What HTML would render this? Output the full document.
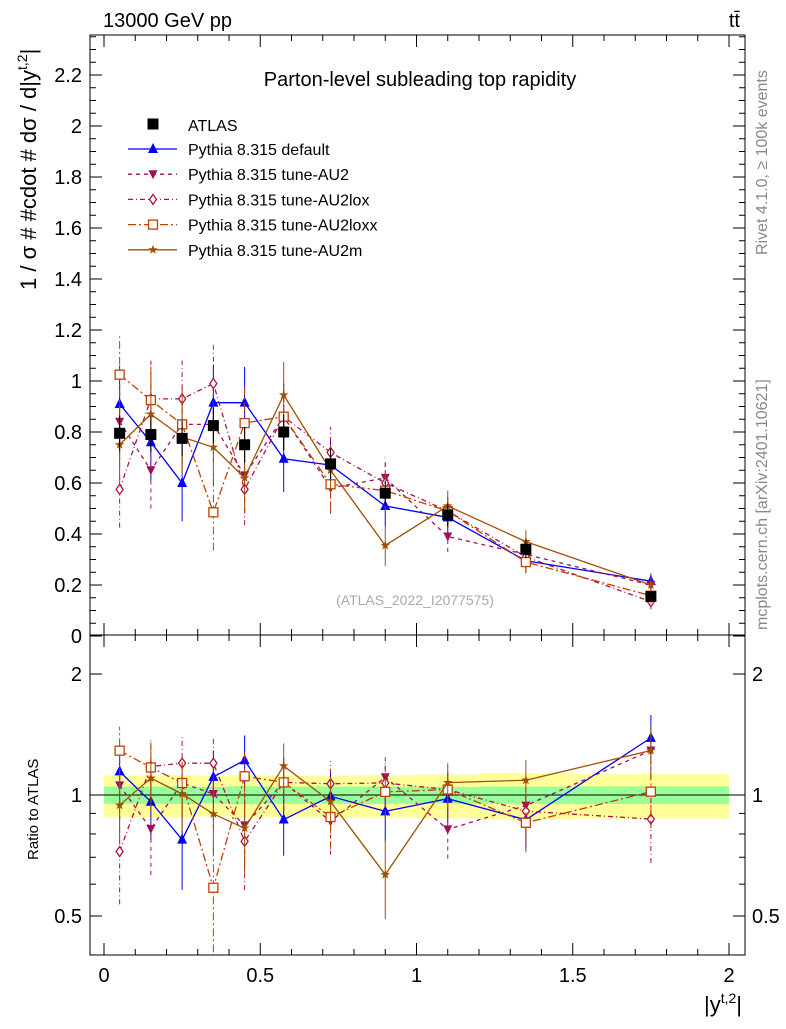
<!DOCTYPE html>
<html><head><meta charset="utf-8"><style>
body{margin:0;background:#fff;width:786px;height:1024px;overflow:hidden}
svg{font-family:"Liberation Sans",sans-serif}
</style></head><body>
<svg id="c" width="786" height="1024" viewBox="0 0 786 1024"></svg>
<script>
const edges=[0,0.1,0.2,0.3,0.4,0.5,0.65,0.8,1.0,1.2,1.5,2.0];
const centers=[0.05,0.15,0.25,0.35,0.45,0.575,0.725,0.9,1.1,1.35,1.75];
const atlas=[0.795,0.79,0.775,0.825,0.75,0.80,0.675,0.56,0.475,0.34,0.155];
const atlasStat=[0.035,0.035,0.035,0.035,0.035,0.035,0.03,0.025,0.02,0.015,0.007];
const atlasTot=[0.07,0.07,0.07,0.07,0.07,0.07,0.06,0.05,0.045,0.035,0.015];
const sDefault=[0.91,0.76,0.60,0.915,0.915,0.695,0.67,0.51,0.465,0.295,0.215];
const sAU2=[0.84,0.65,0.83,0.83,0.63,0.86,0.58,0.62,0.39,0.32,0.20];
const sAU2lox=[0.575,0.93,0.93,0.99,0.575,0.86,0.72,0.60,0.49,0.31,0.135];
const sAU2loxx=[1.025,0.925,0.83,0.485,0.835,0.86,0.595,0.57,0.49,0.29,0.158];
const sAU2m=[0.75,0.87,0.78,0.74,0.62,0.945,0.65,0.355,0.51,0.37,0.20];
const mcErr=[0.15,0.15,0.15,0.15,0.14,0.13,0.1,0.08,0.06,0.045,0.03];
const yTicks=[0,0.2,0.4,0.6,0.8,1,1.2,1.4,1.6,1.8,2,2.2];
const rTicks=[0.5,1,2];
const xTicks=[0,0.5,1,1.5,2];

const NS="http://www.w3.org/2000/svg";const svg=document.getElementById('c');
function el(t,a,p){const e=document.createElementNS(NS,t);for(const k in a)e.setAttribute(k,a[k]);(p||svg).appendChild(e);return e;}
function tx(x,y,s,a,p){const e=el('text',Object.assign({x:x,y:y,'font-size':18,fill:'#000'},a||{}),p);e.textContent=s;return e;}
const L=90,R=745,T=35,M=635,B=955;
const X=v=>104+v*312.5;
const Y=v=>636-v*255;
const RY=v=>795-Math.log2(v)*121;

const f1=el('rect',{x:L,y:T,width:R-L,height:M-T,fill:'none',stroke:'#000','stroke-width':1});

const f2=el('rect',{x:L,y:M,width:R-L,height:B-M,fill:'none',stroke:'#000','stroke-width':1});


for(let v=0;v<=2.0001;v+=0.1){const big=Math.abs(v*2-Math.round(v*2))<1e-6;const l=big?12:6;
 for(const [yy,d] of [[M,-1],[T,1],[B,-1],[M,1]]){el('line',{x1:X(v),x2:X(v),y1:yy,y2:yy+d*l,stroke:'#000'});}}
xTicks.forEach(v=>{const t=tx(X(v),982,String(v),{'text-anchor':'middle','font-size':20});});
const xt=tx(742,1012,'|y',{'text-anchor':'end','font-size':22});const ts=el('tspan',{dy:-9,'font-size':14},xt);ts.textContent='t,2';const ts2=el('tspan',{dy:9},xt);ts2.textContent='|';


for(let v=0;v<=2.35;v+=0.05){const big=Math.abs(v*5-Math.round(v*5))<1e-6;const l=big?12:6;const y=Y(v);if(y<T)continue;
 el('line',{x1:L,x2:L+l,y1:y,y2:y,stroke:'#000'});el('line',{x1:R,x2:R-l,y1:y,y2:y,stroke:'#000'});}
yTicks.forEach(v=>{const t=tx(82,Y(v)+7,String(v),{'text-anchor':'end','font-size':20});});
const yt=tx(0,0,'1 / σ # #cdot # dσ / d|y',{'font-size':22,transform:'translate(36,290) rotate(-90)'});
const yts=el('tspan',{dy:-9,'font-size':14},yt);yts.textContent='t,2';const yts2=el('tspan',{dy:9},yt);yts2.textContent='|';


[0.4,0.5,0.6,0.7,0.8,0.9,1,2].forEach(v=>{const y=RY(v);if(y>B)return;const big=rTicks.includes(v);const l=big?12:6;
 el('line',{x1:L,x2:L+l,y1:y,y2:y,stroke:'#000'});el('line',{x1:R,x2:R-l,y1:y,y2:y,stroke:'#000'});});
rTicks.forEach(v=>{const t=tx(82,RY(v)+7,String(v),{'text-anchor':'end','font-size':20});
 const t2=tx(752,RY(v)+7,String(v),{'font-size':20});});
const rt=tx(0,0,'Ratio to ATLAS',{'font-size':15,transform:'translate(38,860) rotate(-90)'});

const t1=tx(103,27,'13000 GeV pp',{'font-size':20});
const t2=tx(740,27,'tt̄',{'font-size':20,'text-anchor':'end'});
const tt=tx(420,86,'Parton-level subleading top rapidity',{'font-size':20,'text-anchor':'middle'});
const wm=tx(415,605,'(ATLAS_2022_I2077575)',{'font-size':14,'text-anchor':'middle',fill:'#aaa'});
const rv=tx(0,0,'Rivet 4.1.0, ≥ 100k events',{'font-size':16,fill:'#888',transform:'translate(767,255) rotate(-90)'});
const mc=tx(0,0,'mcplots.cern.ch [arXiv:2401.10621]',{'font-size':16,fill:'#888',transform:'translate(767,630) rotate(-90)'});

for(let i=0;i<centers.length;i++){const x0=X(edges[i]),x1=X(edges[i+1]);
 const ry=atlasTot[i]/atlas[i]+0.03,rg=atlasStat[i]/atlas[i]+0.005;
 const b=el('rect',{x:x0,y:RY(1+ry),width:x1-x0,height:RY(1-ry)-RY(1+ry),fill:'#ffff99'});
 const g=el('rect',{x:x0,y:RY(1+rg),width:x1-x0,height:RY(1-rg)-RY(1+rg),fill:'#99ff99'});}
el('line',{x1:L,x2:R,y1:RY(1),y2:RY(1),stroke:'#000'});

function marker(g,type,x,y,col){
 if(type==='sq')el('rect',{x:x-5.5,y:y-5.5,width:11,height:11,fill:col},g);
 if(type==='tri')el('polygon',{points:`${x},${y-6} ${x-5},${y+4} ${x+5},${y+4}`,fill:col},g);
 if(type==='dtri')el('polygon',{points:`${x},${y+5} ${x-4.5},${y-4} ${x+4.5},${y-4}`,fill:col},g);
 if(type==='dia')el('polygon',{points:`${x},${y-5} ${x+3.5},${y} ${x},${y+5} ${x-3.5},${y}`,fill:'#fff',stroke:col,'stroke-width':1.3},g);
 if(type==='osq')el('rect',{x:x-4.5,y:y-4.5,width:9,height:9,fill:'#fff',stroke:col,'stroke-width':1.3},g);
 if(type==='star'){let p=[];for(let k=0;k<10;k++){const r=k%2?2:5,a=-Math.PI/2+k*Math.PI/5;p.push((x+r*Math.cos(a)).toFixed(1)+','+(y+r*Math.sin(a)).toFixed(1));}el('polygon',{points:p.join(' '),fill:col},g);}
}
const series=[
 {name:'default',vals:sDefault,col:'#0000ff',dash:'',m:'tri',label:'Pythia 8.315 default'},
 {name:'au2',vals:sAU2,col:'#a0105a',dash:'4,4',m:'dtri',label:'Pythia 8.315 tune-AU2'},
 {name:'au2lox',vals:sAU2lox,col:'#b0104a',dash:'5,3,1,3',m:'dia',label:'Pythia 8.315 tune-AU2lox'},
 {name:'au2loxx',vals:sAU2loxx,col:'#c04000',dash:'8,3,2,3',m:'osq',label:'Pythia 8.315 tune-AU2loxx'},
 {name:'au2m',vals:sAU2m,col:'#a05000',dash:'',m:'star',label:'Pythia 8.315 tune-AU2m'}];
series.forEach(s=>{
 const g=el('g',{});
 const pts=s.vals.map((v,i)=>X(centers[i])+','+Y(v)).join(' ');
 el('polyline',{points:pts,fill:'none',stroke:s.col,'stroke-width':1.3,'stroke-dasharray':s.dash},g);
 const rpts=s.vals.map((v,i)=>X(centers[i])+','+RY(v/atlas[i])).join(' ');
 el('polyline',{points:rpts,fill:'none',stroke:s.col,'stroke-width':1.3,'stroke-dasharray':s.dash},g);
 s.vals.forEach((v,i)=>{const x=X(centers[i]);
  el('line',{x1:x,x2:x,y1:Y(v-mcErr[i]),y2:Y(v+mcErr[i]),stroke:s.col,'stroke-dasharray':s.dash},g);
  const r=v/atlas[i],re=mcErr[i]/atlas[i];
  el('line',{x1:x,x2:x,y1:RY(Math.max(r-re,0.36)),y2:RY(r+re),stroke:s.col,'stroke-dasharray':s.dash},g);
  marker(g,s.m,x,Y(v),s.col);marker(g,s.m,x,RY(r),s.col);});
});
const ga=el('g',{});
atlas.forEach((v,i)=>{const x=X(centers[i]);el('line',{x1:x,x2:x,y1:Y(v-atlasTot[i]),y2:Y(v+atlasTot[i]),stroke:'#000'},ga);marker(ga,'sq',x,Y(v),'#000');});

const lg=el('g',{});
const e0=el('g',{},lg);
marker(e0,'sq',153,124,'#000');tx(188,131,'ATLAS',{'font-size':16},e0);
series.forEach((s,k)=>{const y=149+k*25.2;const e=el('g',{},lg);
 el('line',{x1:128,x2:177,y1:y,y2:y,stroke:s.col,'stroke-width':1.3,'stroke-dasharray':s.dash},e);marker(e,s.m,153,y,s.col);
 tx(188,y+6,s.label,{'font-size':16},e);});
</script>
</body></html>
